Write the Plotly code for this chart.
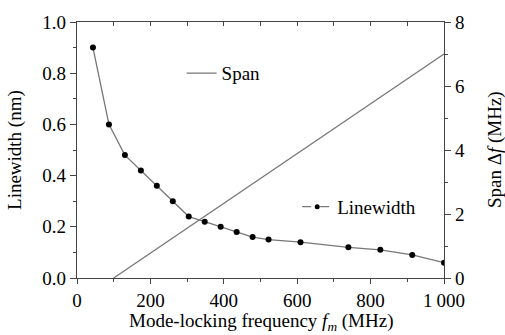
import plotly.graph_objects as go

# Data
freq_mhz = [43.5, 87, 130.5, 174, 217.5, 261, 304.5, 348, 391.5, 435, 478.5,
            522, 609, 739.5, 826.5, 913.5, 1000]
linewidth_nm = [0.90, 0.60, 0.48, 0.42, 0.36, 0.30, 0.24, 0.22, 0.20, 0.18, 0.16,
                0.15, 0.14, 0.12, 0.11, 0.09, 0.06]
span_freq = [100, 1000]
span_mhz = [0, 7]

x_tickvals = [0, 200, 400, 600, 800, 1000]
x_ticktext = ["0", "200", "400", "600", "800", "1\u2009000"]

x_title = "Mode-locking frequency <i>f<sub>m</sub></i> (MHz)"
y_title = "Linewidth (nm)"
y2_title = "Span \u0394<i>f</i> (MHz)"

FONT = "Liberation Serif, Times New Roman, serif"
FS = 19
AX = "#444444"
LINE = "#777777"

fig = go.Figure()

fig.add_trace(go.Scatter(
    x=span_freq, y=span_mhz, mode="lines", name="Span",
    line=dict(color=LINE, width=1.3), yaxis="y2", legend="legend",
))
fig.add_trace(go.Scatter(
    x=freq_mhz, y=linewidth_nm, mode="lines+markers", name="Linewidth",
    line=dict(color=LINE, width=1.3),
    marker=dict(color="black", size=6), showlegend=False,
))
# legend-only entry with dashed symbol
fig.add_trace(go.Scatter(
    x=[None], y=[None], mode="lines+markers", name="Linewidth",
    line=dict(color=LINE, width=1.3, dash="dash"),
    marker=dict(color="black", size=5), legend="legend2",
))
# dummy trace for top axis
fig.add_trace(go.Scatter(x=[None], y=[None], xaxis="x2", showlegend=False,
                         hoverinfo="skip"))

fig.update_layout(
    width=505, height=335,
    margin=dict(l=77, r=61, t=15, b=57),
    paper_bgcolor="white", plot_bgcolor="white",
    font=dict(family=FONT, size=FS, color="black"),
    xaxis=dict(
        range=[0, 1000], tickvals=x_tickvals, ticktext=x_ticktext,
        ticks="outside", ticklen=5, tickcolor=AX, tickwidth=1,
        showline=True, linecolor=AX, linewidth=1.2, showgrid=False, zeroline=False,
        minor=dict(dtick=100, ticks="outside", ticklen=3, tickcolor=AX, showgrid=False),
        tickfont=dict(size=FS),
    ),
    xaxis2=dict(
        range=[0, 1000], overlaying="x", side="top", dtick=100,
        ticks="inside", ticklen=4, tickcolor=AX, showticklabels=False,
        showline=True, linecolor=AX, linewidth=1.2, showgrid=False, zeroline=False,
    ),
    yaxis=dict(
        range=[0, 1.0], dtick=0.2, tickformat=".1f",
        ticks="outside", ticklen=6, tickcolor=AX,
        showline=True, linecolor=AX, linewidth=1.2, showgrid=False, zeroline=False,
        minor=dict(dtick=0.1, ticks="outside", ticklen=3, tickcolor=AX, showgrid=False),
        tickfont=dict(size=FS),
    ),
    yaxis2=dict(
        range=[0, 8], dtick=2, overlaying="y", side="right",
        ticks="outside", ticklen=6, tickcolor=AX,
        showline=True, linecolor=AX, linewidth=1.2, showgrid=False, zeroline=False,
        minor=dict(dtick=1, ticks="outside", ticklen=3, tickcolor=AX, showgrid=False),
        tickfont=dict(size=FS),
    ),
    legend=dict(x=0.285, y=0.80, xanchor="left", yanchor="middle",
                bgcolor="rgba(0,0,0,0)", font=dict(size=FS), itemwidth=30),
    legend2=dict(x=0.60, y=0.278, xanchor="left", yanchor="middle",
                 bgcolor="rgba(0,0,0,0)", font=dict(size=FS), itemwidth=30),
    annotations=[
        dict(text=x_title, xref="paper", yref="paper", x=0.5, y=-0.173,
             xanchor="center", yanchor="middle", showarrow=False,
             font=dict(size=FS)),
        dict(text=y_title, xref="paper", yref="paper", x=-0.169, y=0.5,
             xanchor="center", yanchor="middle", textangle=-90, showarrow=False,
             font=dict(size=FS)),
        dict(text=y2_title, xref="paper", yref="paper", x=1.139, y=0.5,
             xanchor="center", yanchor="middle", textangle=-90, showarrow=False,
             font=dict(size=FS)),
    ],
)

fig.write_html("out.html")
